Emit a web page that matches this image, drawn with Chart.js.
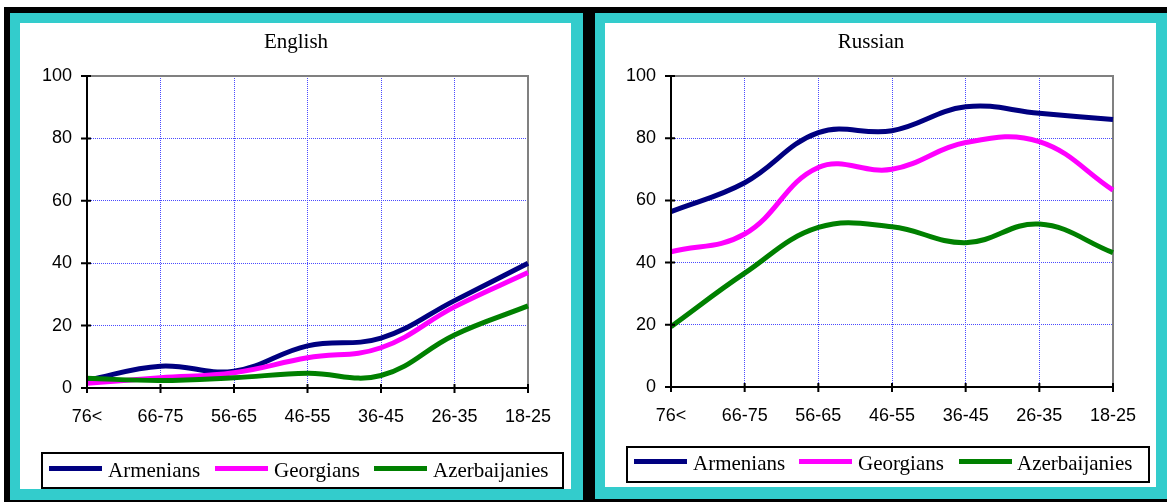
<!DOCTYPE html>
<html>
<head>
<meta charset="utf-8">
<script src="https://cdn.jsdelivr.net/npm/chart.js@4/dist/chart.umd.min.js"></script>
<style>
  html, body { margin:0; padding:0; background:#fff; }
  #page { position:relative; width:1167px; height:502px; overflow:hidden; background:#fff; }
  .abs { position:absolute; }
  .title { font-family:"Liberation Serif", "Times New Roman", serif; font-size:21px; line-height:21px; color:#000; white-space:nowrap; transform:translateX(-50%); }
  .legbox { position:absolute; border:2px solid #000; box-sizing:border-box; background:#fff; }
  .sw { position:absolute; height:5px; width:53px; }
  .lt { position:absolute; font-family:"Liberation Serif", "Times New Roman", serif; font-size:21px; line-height:21px; color:#000; white-space:nowrap; }
</style>
</head>
<body>
<div id="page">
  <div class="abs" style="left:4px;top:7px;width:1163px;height:495px;background:#000;"></div>
  <div class="abs" style="left:10px;top:13px;width:573px;height:487px;background:#33cccc;"></div>
  <div class="abs" style="left:595px;top:13px;width:572px;height:486px;background:#33cccc;"></div>
  <div class="abs" style="left:20px;top:23px;width:551px;height:466px;background:#fff;"></div>
  <div class="abs" style="left:605px;top:23px;width:551px;height:464px;background:#fff;"></div>

  <canvas id="c1" class="abs" style="left:20px;top:23px;" width="551" height="466"></canvas>
  <canvas id="c2" class="abs" style="left:605px;top:23px;" width="551" height="464"></canvas>

  <div class="abs title" style="left:296px;top:31px;">English</div>
  <div class="abs title" style="left:871px;top:31px;">Russian</div>

  <div class="legbox" style="left:41px;top:452px;width:523px;height:37px;"></div>
  <div class="legbox" style="left:626px;top:446px;width:524px;height:37px;"></div>
  <div id="leg1"></div>
  <div id="leg2"></div>
</div>
<script>
const categories = ['76<', '66-75', '56-65', '46-55', '36-45', '26-35', '18-25'];
const seriesNames = ['Armenians', 'Georgians', 'Azerbaijanies'];
const seriesColors = ['#000080', '#ff00ff', '#008000'];
const yTickValues = [0, 20, 40, 60, 80, 100];

const englishArmenians     = [2.5, 7.0, 5.4, 13.5, 16.0, 28.0, 40.0];
const englishGeorgians     = [1.5, 3.3, 4.9, 9.7, 12.9, 26.0, 37.0];
const englishAzerbaijanies = [3.1, 2.4, 3.3, 4.7, 4.0, 17.0, 26.3];

const russianArmenians     = [56.4, 65.7, 81.8, 82.4, 90.1, 88.0, 86.0];
const russianGeorgians     = [43.5, 49.2, 70.6, 70.0, 78.6, 78.9, 63.3];
const russianAzerbaijanies = [19.4, 36.6, 51.3, 51.5, 46.4, 52.4, 43.2];

const axisDecor = {
  id: 'axisDecor',
  beforeDatasetsDraw(chart) {
    const { ctx, chartArea: a } = chart;
    ctx.save();
    ctx.strokeStyle = '#808080';
    ctx.lineWidth = 2;
    ctx.beginPath();
    ctx.moveTo(a.left, a.top);
    ctx.lineTo(a.right, a.top);
    ctx.lineTo(a.right, a.bottom);
    ctx.stroke();
    ctx.restore();
  },
  afterDatasetsDraw(chart) {
    const { ctx, chartArea: a, scales } = chart;
    const x = scales.x, y = scales.y;
    ctx.save();
    ctx.strokeStyle = '#000';
    ctx.lineWidth = 2;
    ctx.beginPath();
    ctx.moveTo(a.left, a.top - 1);
    ctx.lineTo(a.left, a.bottom);
    ctx.lineTo(a.right + 1, a.bottom);
    y.ticks.forEach((t, i) => {
      const py = y.getPixelForTick(i);
      ctx.moveTo(a.left - 6, py);
      ctx.lineTo(a.left + 4, py);
    });
    x.ticks.forEach((t, i) => {
      const px = x.getPixelForTick(i);
      ctx.moveTo(px, a.bottom - 4);
      ctx.lineTo(px, a.bottom + 5);
    });
    ctx.stroke();
    ctx.restore();
  }
};

function makeChart(id, data, yWidth, pad) {
  const ds = data.map((vals, i) => ({
    label: seriesNames[i],
    data: vals,
    borderColor: seriesColors[i],
    backgroundColor: seriesColors[i],
    borderWidth: 5,
    pointRadius: 0,
    tension: 0.4,
    fill: false,
    order: 3 - i
  }));
  return new Chart(document.getElementById(id), {
    type: 'line',
    data: { labels: categories, datasets: ds },
    options: {
      responsive: false,
      animation: false,
      devicePixelRatio: 1,
      layout: { padding: pad },
      plugins: { legend: { display: false }, title: { display: false }, tooltip: { enabled: false } },
      scales: {
        x: {
          offset: false,
          afterFit: s => { s.height = 40; },
          border: { display: false, dash: [1, 1] },
          grid: {
            drawTicks: false,
            lineWidth: 1,
            color: c => (c.index === 0 || c.index === categories.length - 1) ? 'rgba(0,0,0,0)' : '#4a4aff'
          },
          ticks: {
            color: '#000', padding: 18, maxRotation: 0, autoSkip: false,
            font: { family: '"Liberation Sans", Arial, sans-serif', size: 18 }
          }
        },
        y: {
          min: 0, max: 100,
          afterFit: s => { s.width = yWidth; },
          afterBuildTicks: s => { s.ticks = yTickValues.map(v => ({ value: v })); },
          border: { display: false, dash: [1, 1] },
          grid: {
            drawTicks: false,
            lineWidth: 1,
            color: c => (c.tick && (c.tick.value === 0 || c.tick.value === 100)) ? 'rgba(0,0,0,0)' : '#4a4aff'
          },
          ticks: {
            color: '#000', padding: 15,
            font: { family: '"Liberation Sans", Arial, sans-serif', size: 18 }
          }
        }
      }
    },
    plugins: [axisDecor]
  });
}

makeChart('c1', [englishArmenians, englishGeorgians, englishAzerbaijanies], 67, { top: 53, right: 43, bottom: 61, left: 0 });
makeChart('c2', [russianArmenians, russianGeorgians, russianAzerbaijanies], 66, { top: 53, right: 43, bottom: 60, left: 0 });

function buildLegend(containerId, swX, swY, txX, txTop) {
  const el = document.getElementById(containerId);
  seriesNames.forEach((name, i) => {
    const sw = document.createElement('div');
    sw.className = 'sw';
    sw.style.left = swX[i] + 'px';
    sw.style.top = swY + 'px';
    sw.style.background = seriesColors[i];
    el.appendChild(sw);
    const t = document.createElement('div');
    t.className = 'lt';
    t.style.left = txX[i] + 'px';
    t.style.top = txTop + 'px';
    t.textContent = name;
    el.appendChild(t);
  });
}
buildLegend('leg1', [49, 215, 374], 466, [108, 274, 433], 460);
buildLegend('leg2', [634, 799, 959], 459, [693, 858, 1017], 453);
</script>
</body>
</html>
